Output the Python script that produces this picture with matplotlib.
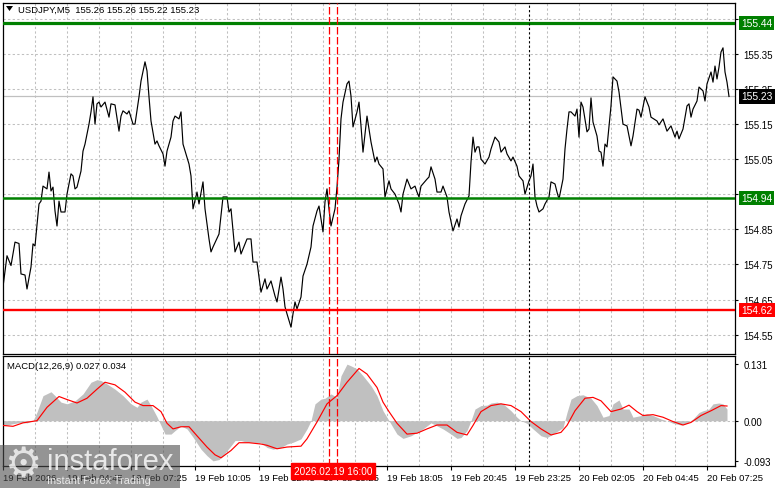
import matplotlib
matplotlib.use("Agg")
import matplotlib.pyplot as plt
import numpy as np
from matplotlib.patches import Rectangle, Polygon

# ---------------- data ----------------
symbol_title = "USDJPY,M5  155.26 155.26 155.22 155.23"
macd_title = "MACD(12,26,9) 0.027 0.034"

# bar index (5-minute bars from 19 Feb 02:05) and close price
close_bar = [0, 2, 4, 6, 8, 9, 11, 12, 14, 15, 16, 18, 19, 20, 22, 23, 24, 25, 26, 27,
             28, 29, 31, 32, 34, 35, 36, 37, 39, 40, 41, 43, 44, 45, 46, 47, 48, 49, 51, 53,
             54, 56, 58, 59, 60, 62, 63, 65, 66, 68, 69, 71, 72, 73, 74, 76, 77, 78, 80, 81,
             82, 84, 85, 86, 88, 89, 90, 93, 94, 95, 97, 98, 100, 101, 103, 104, 105, 108, 109, 110,
             112, 113, 114, 116, 118, 119, 121, 122, 124, 125, 127, 128, 129, 131, 132, 134, 136, 137, 139, 140,
             141, 142, 144, 145, 146, 147, 149, 150, 152, 154, 155, 157, 158, 159, 160, 161, 162, 163, 164, 166,
             167, 168, 169, 170, 172, 173, 174, 175, 177, 178, 179, 180, 182, 183, 184, 186, 187, 188, 190, 191,
             193, 194, 196, 198, 199, 200, 202, 203, 204, 206, 207, 208, 209, 212, 213, 214, 216, 217, 219, 220,
             222, 223, 225, 227, 228, 229, 231, 233, 234, 235, 236, 237, 238, 239, 241, 243, 244, 246, 248, 249,
             251, 252, 254, 255, 257, 258, 260, 261, 263, 264, 265, 266, 267, 268, 270, 271, 273, 274, 276, 277,
             278, 280, 281, 282, 283, 284, 286, 287, 288, 289, 290, 292, 293, 294, 295, 297, 298, 299, 300, 301,
             302, 304, 305, 307, 308, 310, 312, 314, 315, 317, 318, 319, 321, 323, 324, 327, 328, 330, 332, 334,
             336, 337, 338, 340, 342, 343, 344, 345, 347, 348, 350, 351, 352, 354, 355, 356, 357, 358, 359, 360,
             361, 362, 363]
close = [154.686, 154.775, 154.747, 154.814, 154.810, 154.723, 154.720, 154.680, 154.743, 154.809,
         154.803, 154.923, 154.931, 154.974, 154.966, 155.014, 154.960, 154.971, 154.903, 154.860,
         154.931, 154.900, 154.900, 154.951, 155.009, 155.003, 154.966, 154.971, 155.017, 155.074,
         155.094, 155.151, 155.186, 155.229, 155.151, 155.209, 155.214, 155.200, 155.214, 155.171,
         155.209, 155.206, 155.131, 155.174, 155.189, 155.180, 155.189, 155.151, 155.151, 155.229,
         155.274, 155.329, 155.303, 155.229, 155.160, 155.094, 155.103, 155.089, 155.066, 155.031,
         155.074, 155.114, 155.160, 155.174, 155.166, 155.186, 155.094, 155.037, 155.003, 154.909,
         154.957, 154.923, 154.986, 154.909, 154.823, 154.786, 154.800, 154.837, 154.889, 154.943,
         154.943, 154.900, 154.909, 154.786, 154.814, 154.780, 154.809, 154.823, 154.823, 154.757,
         154.757, 154.714, 154.671, 154.709, 154.680, 154.703, 154.660, 154.643, 154.714, 154.680,
         154.629, 154.609, 154.571, 154.609, 154.643, 154.623, 154.657, 154.717, 154.751, 154.800,
         154.860, 154.903, 154.917, 154.880, 154.843, 154.929, 154.966, 154.909, 154.860, 154.909,
         154.971, 155.051, 155.166, 155.214, 155.266, 155.274, 155.231, 155.143, 155.186, 155.214,
         155.146, 155.071, 155.174, 155.137, 155.100, 155.043, 155.057, 155.037, 155.023, 154.943,
         154.989, 154.966, 154.951, 154.923, 154.900, 154.951, 154.994, 154.980, 154.966, 154.974,
         154.957, 154.943, 154.974, 154.994, 155.000, 155.029, 154.994, 154.957, 154.957, 154.974,
         154.943, 154.900, 154.846, 154.880, 154.857, 154.889, 154.923, 154.946, 155.043, 155.114,
         155.071, 155.086, 155.086, 155.051, 155.037, 155.057, 155.080, 155.114, 155.100, 155.071,
         155.086, 155.066, 155.046, 155.057, 155.031, 155.003, 154.989, 154.951, 154.989, 155.003,
         155.037, 154.943, 154.917, 154.900, 154.909, 154.923, 154.943, 154.986, 154.980, 154.957,
         154.937, 154.994, 155.080, 155.137, 155.186, 155.186, 155.174, 155.194, 155.114, 155.214,
         155.200, 155.129, 155.137, 155.226, 155.157, 155.117, 155.074, 155.071, 155.031, 155.094,
         155.086, 155.203, 155.286, 155.274, 155.243, 155.151, 155.146, 155.089, 155.117, 155.194,
         155.191, 155.171, 155.229, 155.200, 155.171, 155.160, 155.149, 155.166, 155.131, 155.146,
         155.114, 155.131, 155.109, 155.137, 155.203, 155.209, 155.171, 155.194, 155.217, 155.257,
         155.246, 155.217, 155.266, 155.300, 155.271, 155.317, 155.280, 155.314, 155.357, 155.369,
         155.300, 155.271, 155.230]

# MACD main (histogram) and signal line
hist_bar = [0, 5, 9, 12, 15, 17, 20, 24, 26, 29, 32, 36, 40, 44, 47, 49, 52, 56, 60, 64,
            67, 69, 72, 74, 77, 79, 81, 84, 86, 89, 92, 95, 99, 102, 105, 108, 110, 114, 116, 119,
            122, 125, 129, 132, 135, 139, 142, 145, 149, 152, 154, 156, 159, 161, 164, 167, 169, 172, 174, 177,
            180, 184, 187, 190, 193, 197, 200, 204, 207, 210, 214, 217, 220, 224, 227, 229, 232, 234, 236, 239,
            242, 244, 247, 250, 254, 257, 259, 262, 265, 269, 272, 275, 279, 280, 282, 284, 287, 290, 294, 297,
            300, 303, 305, 308, 310, 313, 315, 319, 322, 325, 329, 332, 335, 339, 342, 345, 348, 350, 353, 355,
            358, 360, 362]
hist_val = [-0.012, -0.007, -0.004, -0.005, 0.000, 0.020, 0.058, 0.067, 0.058, 0.043,
            0.039, 0.046, 0.062, 0.089, 0.095, 0.093, 0.085, 0.073, 0.058, 0.039,
            0.031, 0.043, 0.050, 0.035, 0.009, -0.011, -0.031, -0.031, -0.023, -0.012,
            -0.019, -0.038, -0.066, -0.081, -0.093, -0.090, -0.081, -0.058, -0.046, -0.046,
            -0.050, -0.050, -0.051, -0.062, -0.066, -0.062, -0.054, -0.050, -0.042, -0.019,
            0.000, 0.039, 0.050, 0.052, 0.062, 0.054, 0.104, 0.131, 0.127, 0.120,
            0.104, 0.081, 0.058, 0.023, 0.000, -0.031, -0.041, -0.035, -0.027, -0.019,
            -0.005, -0.012, -0.019, -0.031, -0.041, -0.039, -0.023, 0.000, 0.027, 0.035,
            0.036, 0.041, 0.043, 0.039, 0.023, 0.008, 0.000, -0.006, -0.019, -0.035,
            -0.039, -0.031, -0.019, -0.016, 0.019, 0.050, 0.058, 0.060, 0.052, 0.035,
            0.008, 0.012, 0.039, 0.048, 0.027, 0.027, 0.008, 0.012, 0.016, 0.012,
            0.004, 0.000, -0.006, -0.010, -0.006, 0.004, 0.019, 0.023, 0.027, 0.039,
            0.041, 0.039, 0.027]
sig_bar = [0, 5, 10, 17, 22, 28, 32, 37, 42, 47, 51, 56, 61, 66, 70, 75, 79, 82, 85, 89,
           93, 97, 102, 106, 109, 114, 118, 123, 129, 132, 137, 142, 149, 152, 157, 162, 167, 172, 178, 182,
           187, 190, 193, 197, 202, 207, 212, 217, 222, 227, 232, 235, 239, 244, 249, 254, 259, 264, 269, 274,
           279, 282, 286, 291, 295, 299, 304, 309, 313, 317, 320, 325, 330, 335, 340, 344, 349, 354, 359, 362]
sig_val = [-0.011, -0.013, -0.005, 0.000, 0.031, 0.056, 0.049, 0.041, 0.052, 0.073,
           0.089, 0.083, 0.066, 0.043, 0.035, 0.035, 0.021, -0.006, -0.019, -0.014,
           -0.014, -0.035, -0.061, -0.079, -0.086, -0.069, -0.051, -0.051, -0.054, -0.057,
           -0.065, -0.061, -0.059, -0.042, -0.003, 0.039, 0.058, 0.089, 0.121, 0.108,
           0.077, 0.043, 0.021, -0.006, -0.031, -0.029, -0.019, -0.010, -0.010, -0.027,
           -0.033, -0.011, 0.021, 0.035, 0.039, 0.035, 0.021, -0.002, -0.019, -0.033,
           -0.027, -0.011, 0.023, 0.052, 0.054, 0.046, 0.021, 0.027, 0.036, 0.021,
           0.012, 0.014, 0.008, -0.002, -0.010, -0.004, 0.012, 0.023, 0.035, 0.034]

level_resistance = 155.44
level_middle = 154.94
level_support = 154.62
last_price = 155.23

# price-scale labels (155.45 and 154.95 sit under the level boxes)
price_ticks = [154.55, 154.65, 154.75, 154.85, 154.95, 155.05, 155.15, 155.25, 155.35, 155.45]
price_tick_labels = ["154.55", "154.65", "154.75", "154.85", "", "155.05", "155.15", "155.25", "155.35", ""]
macd_ticks = [0.131, 0.0, -0.093]
macd_tick_labels = ["0.131", "0.00", "-0.093"]

time_label_bars = [0, 32, 64, 96, 128, 160, 192, 224, 256, 288, 320, 352]
time_labels = ["19 Feb 2026", "19 Feb 04:45", "19 Feb 07:25", "19 Feb 10:05", "19 Feb 12:45",
               "19 Feb 15:25", "19 Feb 18:05", "19 Feb 20:45", "19 Feb 23:25", "20 Feb 02:05",
               "20 Feb 04:45", "20 Feb 07:25"]
event_bars = [163, 167]
event_label = "2026.02.19 16:00"
session_bar = 263

# ---------------- figure ----------------
W, H = 781, 489
fig = plt.figure(figsize=(W / 100, H / 100), dpi=100)
fig.patch.set_facecolor("white")
FONT = "Liberation Sans"
plt.rcParams["font.family"] = [FONT, "DejaVu Sans"]
FS = 6.8

def fx(px):
    return px / W

def fy(py):
    return 1 - py / H

L, R = 3, 735
ax = fig.add_axes([fx(L), fy(355), (R - L) / W, (355 - 4) / H])
axm = fig.add_axes([fx(L), fy(467), (R - L) / W, (467 - 357) / H])

XMAX = 366
grid_kw = dict(color="#c0c0c0", lw=0.75, dashes=(2.2, 2.2), zorder=0.5)

for a in (ax, axm):
    a.set_xlim(0, XMAX)
    for s in a.spines.values():
        s.set_color("black")
        s.set_linewidth(0.9)
    for gb in range(16, XMAX, 16):
        a.axvline(gb, **grid_kw)

# ---- main price panel ----
ax.set_ylim(154.4943, 155.4971)
for pt in price_ticks:
    ax.axhline(pt, **grid_kw)
ax.yaxis.tick_right()
ax.set_yticks(price_ticks)
ax.set_yticklabels(price_tick_labels)
ax.tick_params(axis="y", length=2.5, width=0.8, pad=3.5, labelsize=FS + 0.2, colors="black")
ax.set_xticks([])

ax.axhline(last_price, color="#c0c0c0", lw=0.9, zorder=1)
ax.plot(close_bar, close, color="black", lw=0.85, zorder=3)
ax.axhline(level_resistance, color="#008000", lw=2.3, zorder=4)
ax.axhline(level_middle, color="#008000", lw=1.8, zorder=4)
ax.axhline(level_support, color="#ff0000", lw=1.7, zorder=4)

for eb in event_bars:
    ax.axvline(eb, color="#ff0000", lw=0.9, dashes=(6, 2), zorder=4)
    axm.axvline(eb, color="#ff0000", lw=0.9, dashes=(6, 2), zorder=4)
ax.axvline(session_bar, color="black", lw=0.8, dashes=(2, 2), zorder=4)
axm.axvline(session_bar, color="black", lw=0.8, dashes=(2, 2), zorder=4)

ytr = ax.get_yaxis_transform()
def price_box(val, bg, fg="white"):
    ax.text(1.0085, val, f"{val:.2f}", transform=ytr, ha="left", va="center",
            fontsize=FS + 0.6, color=fg, zorder=10, clip_on=False,
            bbox=dict(boxstyle="square,pad=0.2", fc=bg, ec=bg, lw=0))

price_box(level_resistance, "#008000")
price_box(last_price, "black")
price_box(level_middle, "#008000")
price_box(level_support, "#ff0000")

# title
fig.text(fx(18), fy(10), symbol_title, fontsize=FS, color="black", ha="left", va="center")
fig.patches.append(Polygon([[fx(6), fy(7)], [fx(13), fy(7)], [fx(9.5), fy(12)]],
                           closed=True, transform=fig.transFigure, fc="black", ec="none"))

# ---- MACD panel ----
axm.set_ylim(-0.1049, 0.1498)
axm.axhline(0.0, **grid_kw)
axm.fill_between(hist_bar, 0, hist_val, color="#c0c0c0", lw=0, zorder=2)
axm.plot(sig_bar, sig_val, color="#ff0000", lw=0.85, zorder=3)
axm.yaxis.tick_right()
axm.set_yticks(macd_ticks)
axm.set_yticklabels(macd_tick_labels)
axm.tick_params(axis="y", length=2.5, width=0.8, pad=3.5, labelsize=FS + 0.2, colors="black")
axm.set_xticks(time_label_bars)
axm.set_xticklabels(time_labels, ha="left")
axm.tick_params(axis="x", length=3, width=0.8, pad=2, labelsize=FS, colors="black")
axm.text(0.006, 0.915, macd_title, transform=axm.transAxes, fontsize=FS,
         ha="left", va="center", color="black", zorder=6)

# highlighted event time on the time axis
axm.text((event_bars[0] + event_bars[1]) / 2, -0.1049, event_label,
         transform=axm.transData, ha="center", va="top", fontsize=FS + 0.4, color="white",
         zorder=10, clip_on=False,
         bbox=dict(boxstyle="square,pad=0.3", fc="#ff0000", ec="#ff0000"))

# watermark
fig.patches.append(Rectangle((0, 0), fx(180), (H - 446) / H, transform=fig.transFigure,
                             fc=(0.3, 0.3, 0.3), alpha=0.6, ec="none", zorder=20))
fig.text(fx(47), fy(462), "instaforex", fontsize=21, color="white", alpha=0.8,
         ha="left", va="center", zorder=21)
fig.text(fx(47), fy(481), "Instant Forex Trading", fontsize=7.8, color="white", alpha=0.8,
         ha="left", va="center", zorder=21)
fig.text(fx(23), fy(465), "\u2699", fontsize=30, color="white", alpha=0.75,
         ha="center", va="center", zorder=21, family="DejaVu Sans")

fig.savefig("out.png", dpi=100, facecolor="white")
